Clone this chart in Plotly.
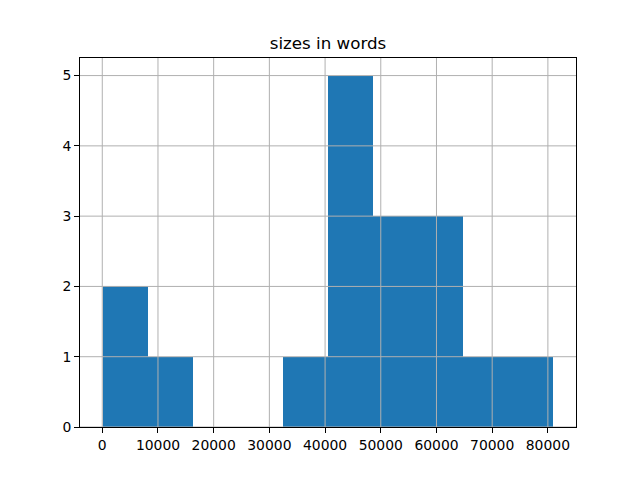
import plotly.graph_objects as go

# Histogram data (10 bins)
bin_edges = [50, 8145, 16240, 24335, 32430, 40525, 48620, 56715, 64810, 72905, 81000]
counts = [2, 1, 0, 0, 1, 5, 3, 3, 1, 1]
x_ticks = [0, 10000, 20000, 30000, 40000, 50000, 60000, 70000, 80000]
y_ticks = [0, 1, 2, 3, 4, 5]
title = "sizes in words"

centers = [(a + b) / 2 for a, b in zip(bin_edges[:-1], bin_edges[1:])]
widths = [b - a for a, b in zip(bin_edges[:-1], bin_edges[1:])]

fig = go.Figure()
fig.add_trace(go.Bar(x=centers, y=counts, width=widths,
                     marker=dict(color="#1f77b4", line=dict(width=0)),
                     hoverinfo="skip"))

span = bin_edges[-1] - bin_edges[0]
xr = [bin_edges[0] - 0.05 * span, bin_edges[-1] + 0.05 * span]
yr = [0, max(counts) * 1.05]

grid_color = "#b0b0b0"
shapes = []
for t in x_ticks:
    shapes.append(dict(type="line", xref="x", yref="paper", x0=t, x1=t, y0=0, y1=1,
                       line=dict(color=grid_color, width=1), layer="above"))
for t in y_ticks:
    shapes.append(dict(type="line", xref="paper", yref="y", x0=0, x1=1, y0=t, y1=t,
                       line=dict(color=grid_color, width=1), layer="above"))

# page has an 8px body margin; compensate so the plot area lands at 80..576 x 58..427
W, H = 624, 464
font = dict(family="DejaVu Sans", size=13.9, color="black")
fig.update_layout(
    width=W, height=H,
    margin=dict(l=72, r=56, t=50, b=45),
    paper_bgcolor="white", plot_bgcolor="white",
    showlegend=False,
    bargap=0,
    font=font,
    shapes=shapes,
    title=dict(text=title, xref="paper", x=0.5, xanchor="center", y=1 - 35 / H,
               yanchor="middle",
               font=dict(family="DejaVu Sans", size=16.7, color="black")),
    xaxis=dict(range=xr, tickvals=x_ticks, ticktext=[str(t) for t in x_ticks],
               showgrid=False, zeroline=False, showline=True, mirror=True,
               linecolor="black", linewidth=1, ticks="outside", ticklen=5,
               tickcolor="black", tickfont=font, layer="above traces"),
    yaxis=dict(range=yr, tickvals=y_ticks, ticktext=[str(t) for t in y_ticks],
               showgrid=False, zeroline=False, showline=True, mirror=True,
               linecolor="black", linewidth=1, ticks="outside", ticklen=5,
               tickcolor="black", tickfont=font, layer="above traces"),
)

fig.write_html("out.html")
